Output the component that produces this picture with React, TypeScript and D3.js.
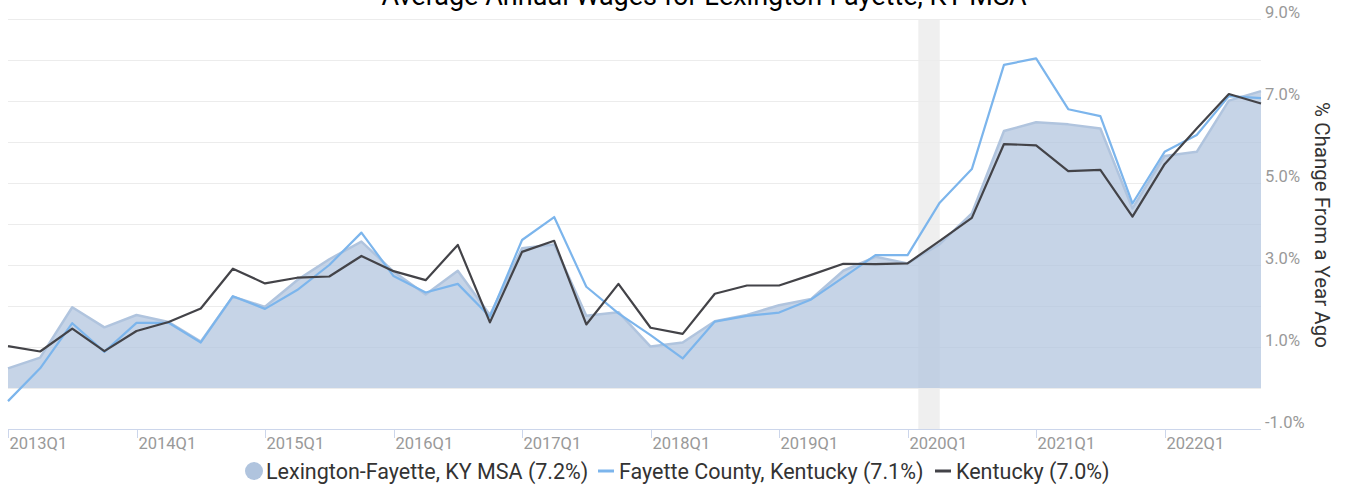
import React from "react";
import * as d3 from "d3";

const title = "Average Annual Wages for Lexington-Fayette, KY MSA";
const yAxisTitle = "% Change From a Year Ago";
const xTickLabels = ["2013Q1", "2014Q1", "2015Q1", "2016Q1", "2017Q1", "2018Q1", "2019Q1", "2020Q1", "2021Q1", "2022Q1"];
const yTicks = [-1, 1, 3, 5, 7, 9];
const gridValues = [-1, 0, 1, 2, 3, 4, 5, 6, 7, 8, 9];

const msaValues = [0.48, 0.74, 1.97, 1.48, 1.78, 1.61, 1.13, 2.23, 1.98, 2.63, 3.14, 3.57, 2.84, 2.28, 2.86, 1.78, 3.41, 3.5, 1.76, 1.85, 1.01, 1.11, 1.63, 1.78, 2.02, 2.17, 2.86, 3.2, 3.04, 3.51, 4.26, 6.27, 6.48, 6.43, 6.33, 4.38, 5.66, 5.76, 7.01, 7.24];
const fayetteValues = [-0.32, 0.48, 1.58, 0.88, 1.59, 1.59, 1.11, 2.24, 1.93, 2.39, 3.0, 3.79, 2.73, 2.33, 2.54, 1.74, 3.61, 4.17, 2.47, 1.82, 1.29, 0.72, 1.62, 1.76, 1.84, 2.16, 2.7, 3.24, 3.24, 4.52, 5.34, 7.88, 8.04, 6.8, 6.63, 4.5, 5.76, 6.17, 7.12, 7.07];
const kentuckyValues = [1.02, 0.89, 1.45, 0.9, 1.39, 1.61, 1.94, 2.91, 2.55, 2.69, 2.72, 3.22, 2.85, 2.63, 3.49, 1.6, 3.32, 3.59, 1.55, 2.54, 1.47, 1.32, 2.3, 2.5, 2.5, 2.76, 3.03, 3.02, 3.04, 3.59, 4.15, 5.95, 5.92, 5.29, 5.32, 4.18, 5.46, 6.33, 7.17, 6.94];

const legendItems = [
  { label: "Lexington-Fayette, KY MSA (7.2%)", color: "#b0c4de", kind: "circle" },
  { label: "Fayette County, Kentucky (7.1%)", color: "#7cb5ec", kind: "line" },
  { label: "Kentucky (7.0%)", color: "#434348", kind: "line" },
];

// recession period in quarter-index units (Feb 2020 - Apr 2020)
const recession = [28 + 1 / 3, 29];

const W = 1349;
const H = 488;
const FONT = "Roboto, 'Liberation Sans', Arial, sans-serif";

export default function App() {
  const x = d3.scaleLinear().domain([0, msaValues.length - 1]).range([8, 1261]);
  const y = d3.scaleLinear().domain([-1, 9]).range([429, 19]);
  const idx = d3.range(msaValues.length);

  const area = d3
    .area<number>()
    .x((i) => x(i))
    .y0(y(0))
    .y1((i) => y(msaValues[i]));
  const lineOf = (vals: number[]) =>
    d3
      .line<number>()
      .x((i) => x(i))
      .y((i) => y(vals[i]))(idx) as string;

  const legendPos = [254, 598, 935];

  return (
    <svg
      width={W}
      height={H}
      style={{ position: "absolute", left: 0, top: 0, fontFamily: FONT }}
    >
      <text x={704} y={5} textAnchor="middle" fontSize={27} fill="#000">
        {title}
      </text>
      {/* recession band */}
      <rect
        x={x(recession[0])}
        y={19}
        width={x(recession[1]) - x(recession[0])}
        height={411}
        fill="#efefef"
      />
      {/* grid */}
      {gridValues.map((v) => (
        <line key={v} x1={8} x2={1261} y1={y(v) + 0.5} y2={y(v) + 0.5} stroke="#ececec" strokeWidth={1} />
      ))}
      {/* area */}
      <path d={area(idx) as string} fill="#b0c4de" fillOpacity={0.72} />
      <path d={lineOf(msaValues)} fill="none" stroke="#b0c4de" strokeWidth={2.5} strokeLinejoin="round" />
      <path d={lineOf(fayetteValues)} fill="none" stroke="#7cb5ec" strokeWidth={2.2} strokeLinejoin="round" />
      <path d={lineOf(kentuckyValues)} fill="none" stroke="#434348" strokeWidth={2.2} strokeLinejoin="round" />
      {/* x axis */}
      <line x1={8} x2={1261} y1={429.5} y2={429.5} stroke="#ccd6eb" strokeWidth={1} />
      {xTickLabels.map((lab, k) => {
        const xx = Math.round(x(k * 4)) + 0.5;
        return (
          <g key={lab}>
            <line x1={xx} x2={xx} y1={429} y2={438} stroke="#ccd6eb" strokeWidth={1} />
            <text x={xx + 1} y={449} fontSize={16.5} fill="#999">
              {lab}
            </text>
          </g>
        );
      })}
      {/* y labels */}
      {yTicks.map((v) => (
        <text key={v} x={1265} y={y(v) - 0.7} fontSize={16.5} fill="#999">
          {v.toFixed(1) + "%"}
        </text>
      ))}
      <text
        transform={`translate(1315,225) rotate(90)`}
        textAnchor="middle"
        fontSize={20.5}
        fill="#333"
      >
        {yAxisTitle}
      </text>
      {/* legend */}
      {legendItems.map((it, k) => {
        const lx = legendPos[k];
        const ly = 471;
        return (
          <g key={it.label}>
            {it.kind === "circle" ? (
              <circle cx={lx} cy={ly} r={9} fill={it.color} />
            ) : (
              <line x1={lx} x2={lx + 16} y1={ly} y2={ly} stroke={it.color} strokeWidth={3} />
            )}
            <text x={it.kind === "circle" ? lx + 12 : lx + 21} y={ly + 7.5} fontSize={21.5} fill="#333">
              {it.label}
            </text>
          </g>
        );
      })}
    </svg>
  );
}
